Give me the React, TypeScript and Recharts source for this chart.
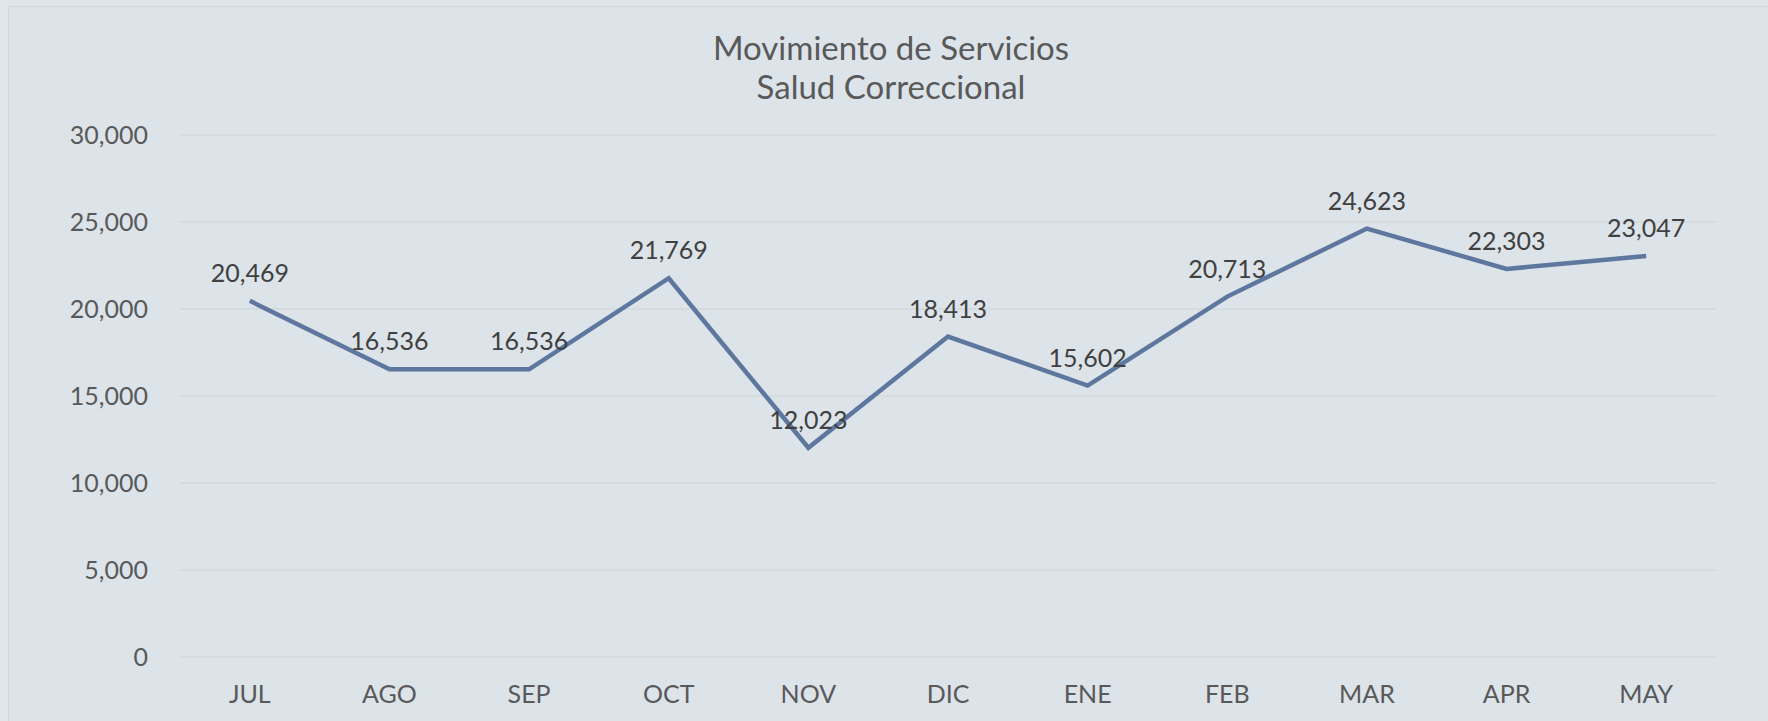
import React from "react";
import { LineChart, Line, XAxis, YAxis, CartesianGrid, LabelList } from "recharts";

const months = ["JUL", "AGO", "SEP", "OCT", "NOV", "DIC", "ENE", "FEB", "MAR", "APR", "MAY"];
const servicios = [20469, 16536, 16536, 21769, 12023, 18413, 15602, 20713, 24623, 22303, 23047];
const yTicks = [0, 5000, 10000, 15000, 20000, 25000, 30000];
const titleLines = ["Movimiento de Servicios", "Salud Correccional"];

const data = months.map((m, i) => ({ month: m, value: servicios[i] }));

const fmt = (v: number) => v.toLocaleString("en-US");
const FONT = "Lato, 'Gill Sans', sans-serif";

export default function App() {
  return (
    <div
      style={{
        position: "absolute",
        left: 0,
        top: 0,
        width: 1768,
        height: 721,
        background: "#DFE5EA",
        fontFamily: FONT,
        overflow: "hidden",
      }}
    >
      <div
        style={{
          position: "absolute",
          left: 8,
          top: 6,
          width: 1780,
          height: 740,
          border: "1px solid #D2D7DB",
          background: "#DCE3E9",
        }}
      />
      <div
        style={{
          position: "absolute",
          left: 0,
          top: 28,
          width: 1782,
          textAlign: "center",
          color: "#595959",
          fontSize: 33,
          lineHeight: "39px",
        }}
      >
        {titleLines.map((t) => (
          <div key={t}>{t}</div>
        ))}
      </div>
      <div style={{ position: "absolute", left: 0, top: 0 }}>
        <LineChart
          width={1768}
          height={721}
          data={data}
          margin={{ top: 135, right: 52, bottom: 0, left: 0 }}
        >
          <CartesianGrid vertical={false} stroke="#D4D8DB" strokeWidth={1.5} />
          <XAxis
            dataKey="month"
            scale="band"
            height={64}
            axisLine={false}
            tickLine={false}
            tickMargin={22}
            tick={{ fill: "#595959", fontSize: 25, fontFamily: FONT }}
            interval={0}
          />
          <YAxis
            width={180}
            domain={[0, 30000]}
            ticks={yTicks}
            axisLine={false}
            tickLine={false}
            tickMargin={26}
            tickFormatter={fmt}
            tick={{ fill: "#595959", fontSize: 25, fontFamily: FONT }}
          />
          <Line
            type="linear"
            dataKey="value"
            stroke="#5E779E"
            strokeWidth={4.5}
            dot={false}
            isAnimationActive={false}
          >
            <LabelList
              dataKey="value"
              position="top"
              offset={19}
              formatter={(v: any) => fmt(Number(v))}
              style={{ fill: "#404040", fontSize: 25, fontFamily: FONT }}
            />
          </Line>
        </LineChart>
      </div>
    </div>
  );
}
